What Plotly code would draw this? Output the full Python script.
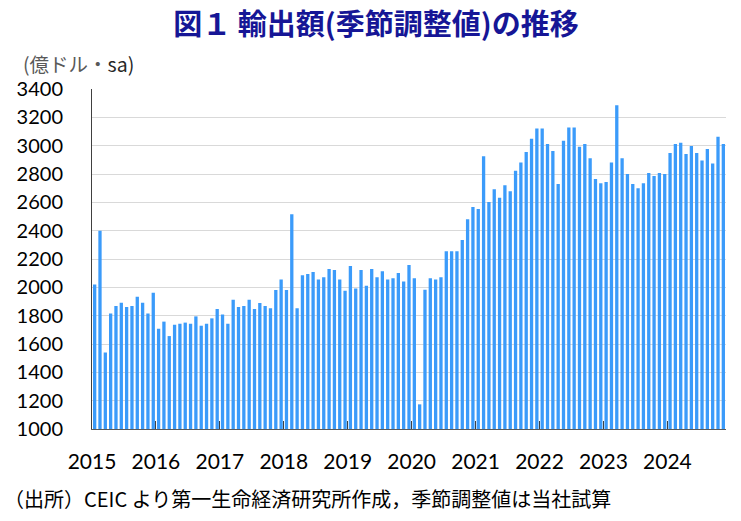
import plotly.graph_objects as go

# ---- data ----
year_labels = ["2015", "2016", "2017", "2018", "2019", "2020", "2021", "2022", "2023", "2024"]

exports_2015 = [2020, 2400, 1540, 1816, 1868, 1892, 1861, 1868, 1934, 1892, 1816, 1962]
exports_2016 = [1708, 1758, 1656, 1736, 1743, 1751, 1743, 1795, 1729, 1743, 1781, 1847]
exports_2017 = [1809, 1743, 1913, 1861, 1868, 1913, 1847, 1889, 1868, 1852, 1981, 2056]
exports_2018 = [1981, 2515, 1852, 2085, 2094, 2108, 2056, 2071, 2129, 2122, 2056, 1976]
exports_2019 = [2151, 1991, 2122, 2012, 2129, 2071, 2113, 2056, 2064, 2101, 2042, 2158]
exports_2020 = [2064, 1174, 1983, 2064, 2056, 2071, 2254, 2254, 2254, 2334, 2480, 2567]
exports_2021 = [2553, 2925, 2602, 2692, 2633, 2720, 2678, 2823, 2882, 2955, 3049, 3122]
exports_2022 = [3122, 3012, 2962, 2729, 3035, 3129, 3129, 2993, 3012, 2911, 2765, 2734]
exports_2023 = [2743, 2882, 3285, 2911, 2800, 2729, 2699, 2734, 2807, 2786, 2807, 2800]
exports_2024 = [2948, 3012, 3021, 2941, 2998, 2948, 2896, 2976, 2875, 3063, 3012]

export_values = (exports_2015 + exports_2016 + exports_2017 + exports_2018 + exports_2019
                 + exports_2020 + exports_2021 + exports_2022 + exports_2023 + exports_2024)
months = [f"{y}-{m:02d}" for y in year_labels for m in range(1, 13)][:len(export_values)]

title_text = "図１ 輸出額(季節調整値)の推移"
unit_text = "<span style='color:#595959'>(億ドル・</span>sa)"
source_text = "（出所）CEIC より第一生命経済研究所作成，季節調整値は当社試算"

# ---- figure ----
x_pos = list(range(len(export_values)))
year_ticks = [12 * i - 0.5 for i in range(len(year_labels))]

fig = go.Figure(
    go.Bar(
        x=x_pos,
        y=export_values,
        customdata=months,
        hovertemplate="%{customdata}: %{y}<extra></extra>",
        marker=dict(color="#3b9bfa", line=dict(width=0)),
    )
)

fig.update_layout(
    width=741,
    height=521,
    margin=dict(l=92, r=15, t=89, b=92),
    paper_bgcolor="white",
    plot_bgcolor="white",
    bargap=0.38,
    showlegend=False,
    title=dict(
        text=title_text,
        x=376 / 741,
        xanchor="center",
        y=1 - 25 / 521,
        yanchor="middle",
        font=dict(family="Noto Sans CJK JP", size=29, color="#161696", weight="bold"),
    ),
    xaxis=dict(
        range=[-0.5, len(export_values) - 0.5],
        tickmode="array",
        tickvals=year_ticks,
        ticktext=year_labels,
        ticks="inside",
        ticklen=8,
        tickwidth=1,
        tickcolor="#404040",
        showgrid=False,
        zeroline=False,
        showline=True,
        linecolor="#595959",
        linewidth=1,
        ticklabelstandoff=14,
        tickfont=dict(family="Lato", size=21, color="#000000"),
        fixedrange=True,
    ),
    yaxis=dict(
        range=[1000, 3400],
        tickmode="linear",
        tick0=1000,
        dtick=200,
        showgrid=True,
        gridcolor="#d9d9d9",
        gridwidth=1,
        zeroline=False,
        showline=True,
        linecolor="#404040",
        linewidth=1,
        ticks="",
        ticklabelstandoff=24,
        tickfont=dict(family="Lato", size=20, color="#000000"),
        fixedrange=True,
    ),
    annotations=[
        dict(
            text=unit_text,
            xref="paper", yref="paper",
            x=(21 - 92) / 634, y=(429.3 - 64) / 340,
            xanchor="left", yanchor="middle",
            showarrow=False,
            font=dict(family="Noto Sans CJK JP", size=19.5, color="#262626"),
        ),
        dict(
            text=source_text,
            xref="paper", yref="paper",
            x=(2 - 92) / 634, y=(429.3 - 499) / 340,
            xanchor="left", yanchor="middle",
            showarrow=False,
            font=dict(family="Noto Sans CJK JP", size=20, color="#000000"),
        ),
    ],
)

fig.write_html("out.html")
